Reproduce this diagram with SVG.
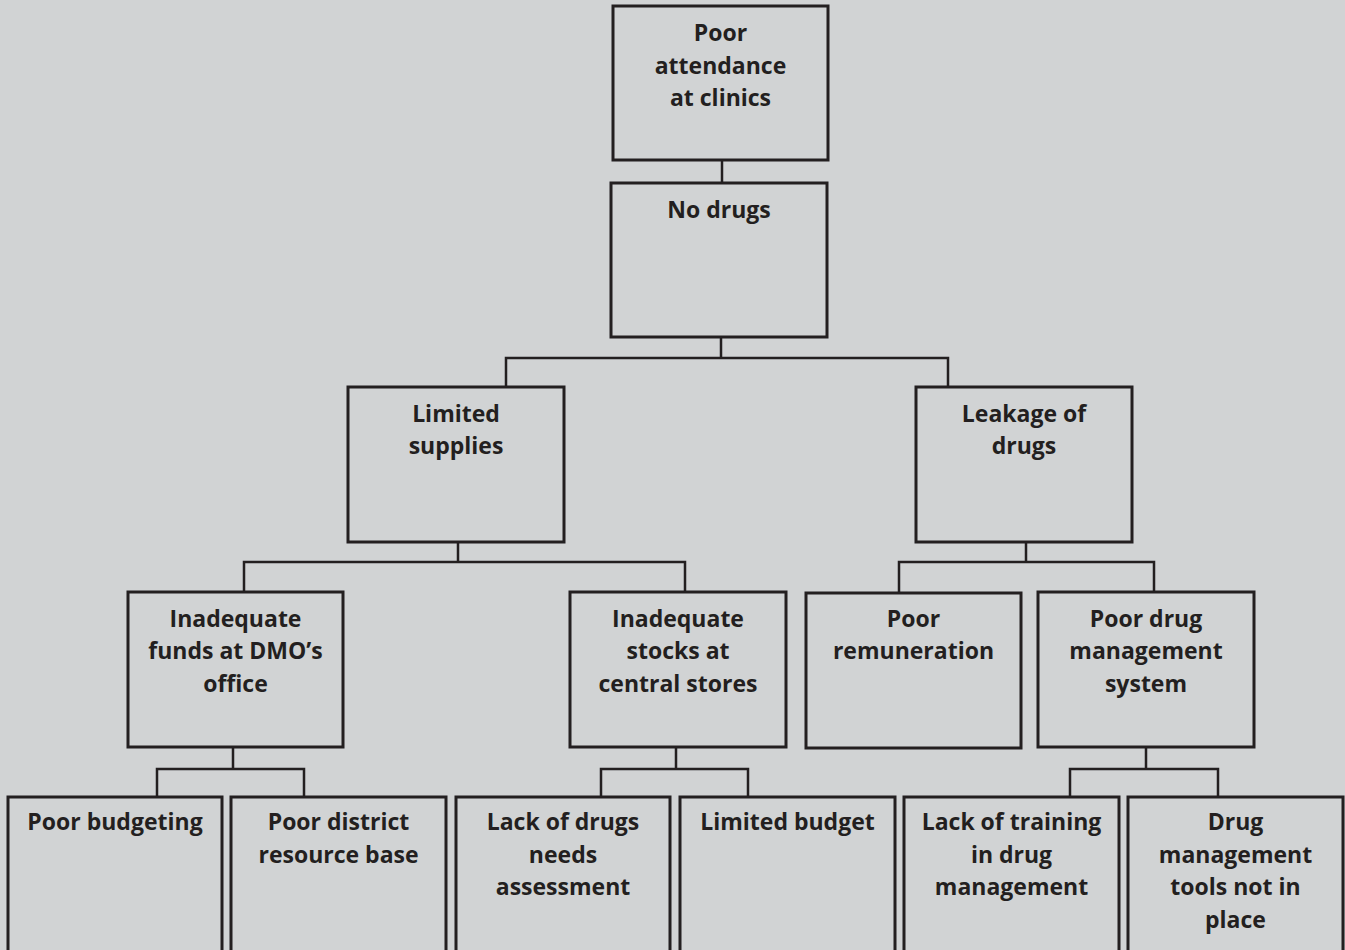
<svg xmlns="http://www.w3.org/2000/svg" width="1345" height="950" viewBox="0 0 1345 950">
<style>
.box{fill:#d1d3d4;stroke:#231f20;stroke-width:3}
.t{font-family:"Open Sans","Noto Sans","DejaVu Sans",sans-serif;font-weight:bold;font-size:23px;fill:#231f20;text-anchor:middle}
.c{fill:none;stroke:#231f20;stroke-width:2.5}
</style>
<rect width="1345" height="950" fill="#d1d3d4"/>
<g id="connectors" class="c">
<path d="M722,160V183"/>
<path d="M721,338V358M506,387V358H948V387"/>
<path d="M458,542V562M244,592V562H685V592"/>
<path d="M1026,542V562M899,593V562H1154V592"/>
<path d="M233,747V769M157,797V769H304V797"/>
<path d="M676,747V769M601,797V769H748V797"/>
<path d="M1146,747V769M1070,797V769H1218V797"/>
</g>
<g id="n1"><rect class="box" x="613" y="6" width="215" height="154"/><text class="t" x="720.5" y="41">Poor</text><text class="t" x="720.5" y="74">attendance</text><text class="t" x="720.5" y="106">at clinics</text></g>
<g id="n2"><rect class="box" x="611" y="183" width="216" height="154"/><text class="t" x="719" y="218">No drugs</text></g>
<g id="n3"><rect class="box" x="348" y="387" width="216" height="155"/><text class="t" x="456" y="422">Limited</text><text class="t" x="456" y="454">supplies</text></g>
<g id="n4"><rect class="box" x="916" y="387" width="216" height="155"/><text class="t" x="1024" y="422">Leakage of</text><text class="t" x="1024" y="454">drugs</text></g>
<g id="n5"><rect class="box" x="128" y="592" width="215" height="155"/><text class="t" x="235.5" y="627">Inadequate</text><text class="t" x="235.5" y="659">funds at DMO’s</text><text class="t" x="235.5" y="692">office</text></g>
<g id="n6"><rect class="box" x="570" y="592" width="216" height="155"/><text class="t" x="678" y="627">Inadequate</text><text class="t" x="678" y="659">stocks at</text><text class="t" x="678" y="692">central stores</text></g>
<g id="n7"><rect class="box" x="806" y="593" width="215" height="155"/><text class="t" x="913.5" y="627">Poor</text><text class="t" x="913.5" y="659">remuneration</text></g>
<g id="n8"><rect class="box" x="1038" y="592" width="216" height="155"/><text class="t" x="1146" y="627">Poor drug</text><text class="t" x="1146" y="659">management</text><text class="t" x="1146" y="692">system</text></g>
<g id="n9"><rect class="box" x="8" y="797" width="214" height="170"/><text class="t" x="115" y="830">Poor budgeting</text></g>
<g id="n10"><rect class="box" x="231" y="797" width="215" height="170"/><text class="t" x="338.5" y="830">Poor district</text><text class="t" x="338.5" y="863">resource base</text></g>
<g id="n11"><rect class="box" x="456" y="797" width="214" height="170"/><text class="t" x="563" y="830">Lack of drugs</text><text class="t" x="563" y="863">needs</text><text class="t" x="563" y="895">assessment</text></g>
<g id="n12"><rect class="box" x="680" y="797" width="215" height="170"/><text class="t" x="787.5" y="830">Limited budget</text></g>
<g id="n13"><rect class="box" x="904" y="797" width="215" height="170"/><text class="t" x="1011.5" y="830">Lack of training</text><text class="t" x="1011.5" y="863">in drug</text><text class="t" x="1011.5" y="895">management</text></g>
<g id="n14"><rect class="box" x="1128" y="797" width="215" height="170"/><text class="t" x="1235.5" y="830">Drug</text><text class="t" x="1235.5" y="863">management</text><text class="t" x="1235.5" y="895">tools not in</text><text class="t" x="1235.5" y="928">place</text></g>
</svg>
